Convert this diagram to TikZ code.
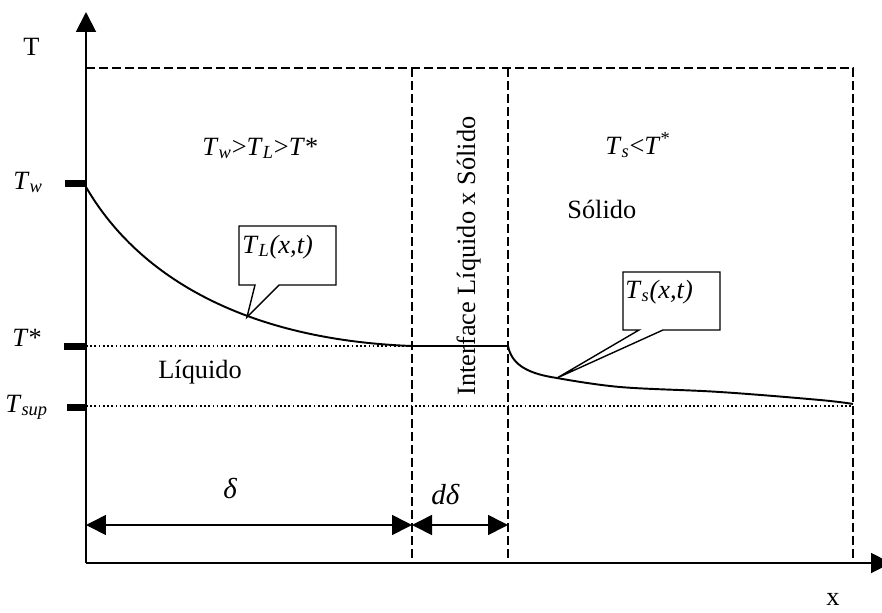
\documentclass[tikz,border=0pt]{standalone}
\usepackage{fontspec}
\setmainfont{Liberation Serif}
\usetikzlibrary{arrows.meta}

\newcommand{\itsub}[2]{\textit{#1}\textsubscript{\textit{#2}}}

\begin{document}
\begin{tikzpicture}[x=0.02cm, y=-0.02cm,
    every node/.style={inner sep=0pt, anchor=base west, font=\fontsize{15}{18}\selectfont},
    axis/.style={line width=1.1pt, -{Triangle[length=0.4cm, width=0.4cm]}},
    border/.style={line width=0.8pt, dash pattern=on 0.18cm off 0.08cm},
    level/.style={line width=1.1pt, dash pattern=on 1pt off 1.4pt},
    curve/.style={line width=1.1pt},
    dim/.style={line width=0.9pt, {Triangle[length=0.4cm, width=0.4cm]}-{Triangle[length=0.4cm, width=0.4cm]}},
    callout/.style={draw, fill=white, line width=0.8pt, line join=miter},
    biglabel/.style={font=\fontsize{16.5}{19}\selectfont}]
    \useasboundingbox (0,0) rectangle (882,612);

    \coordinate (origin) at (86,563);
    \coordinate (ytop) at (86,12);
    \coordinate (xend) at (891,563);
    \coordinate (wall) at (86,187);
    \coordinate (front) at (412,346);
    \coordinate (back) at (508,346);
    \coordinate (far) at (853,404);
    \coordinate (d0) at (86,525);
    \coordinate (d1) at (412,525);
    \coordinate (d2) at (508,525);

    \draw[border] (86,68) -- (853,68) -- (853,563);
    \draw[border] (412,68) -- (412,563);
    \draw[border] (508,68) -- (508,563);

    \draw[level] (86,346) -- (front);
    \draw[level] (86,406) -- (853,406);

    \fill (65,180) rectangle (86,187);
    \fill (64,343) rectangle (86,350);
    \fill (67,404) rectangle (86,411);

    \draw[axis] (origin) -- (ytop);
    \draw[axis] (origin) -- (xend);

    \draw[curve] (wall) .. controls (140,280) and (250,340) .. (front) -- (back);
    \draw[curve] (back) .. controls (512,366) and (530,374) .. (557,378)
      plot[smooth, tension=0.6] coordinates {(557,378) (620,387) (720,392) (820,400) (far)};

    \draw[callout] (239,226) -- (336,226) -- (336,285) -- (279,285) -- (247,317)
      -- (255,285) -- (239,285) -- cycle;
    \draw[callout] (623,272) -- (720,272) -- (720,330) -- (663,330) -- (557,378)
      -- (639,330) -- (623,330) -- cycle;
    \node (labTL) at (242,253) {\itsub{T}{L}\textit{(x,t)}};
    \node (labTs) at (625,298) {\itsub{T}{s}\textit{(x,t)}};

    \draw[dim] (d0) -- (d1);
    \draw[dim] (d1) -- (d2);
    \node[biglabel] (delta) at (223,498) {\textit{δ}};
    \node[biglabel] (ddelta) at (431,504) {\textit{dδ}};

    \node (labT) at (23,55) {T};
    \node (labx) at (826,605) {x};
    \node (labTw) at (13,189) {\itsub{T}{w}};
    \node (labTstar) at (12,346) {\textit{T}*};
    \node (labTsup) at (5,412) {\itsub{T}{sup}};

    \node (liqcond) at (202,155) {\itsub{T}{w}>\itsub{T}{L}>\textit{T}*};
    \node (solcond) at (605,154) {\itsub{T}{s}<\textit{T}\textsuperscript{*}};
    \node (solido) at (567,218) {Sólido};
    \node (liquido) at (158,378) {Líquido};
    \node[rotate=90, anchor=base] (interface) at (475,256) {Interface Líquido x Sólido};
\end{tikzpicture}
\end{document}
